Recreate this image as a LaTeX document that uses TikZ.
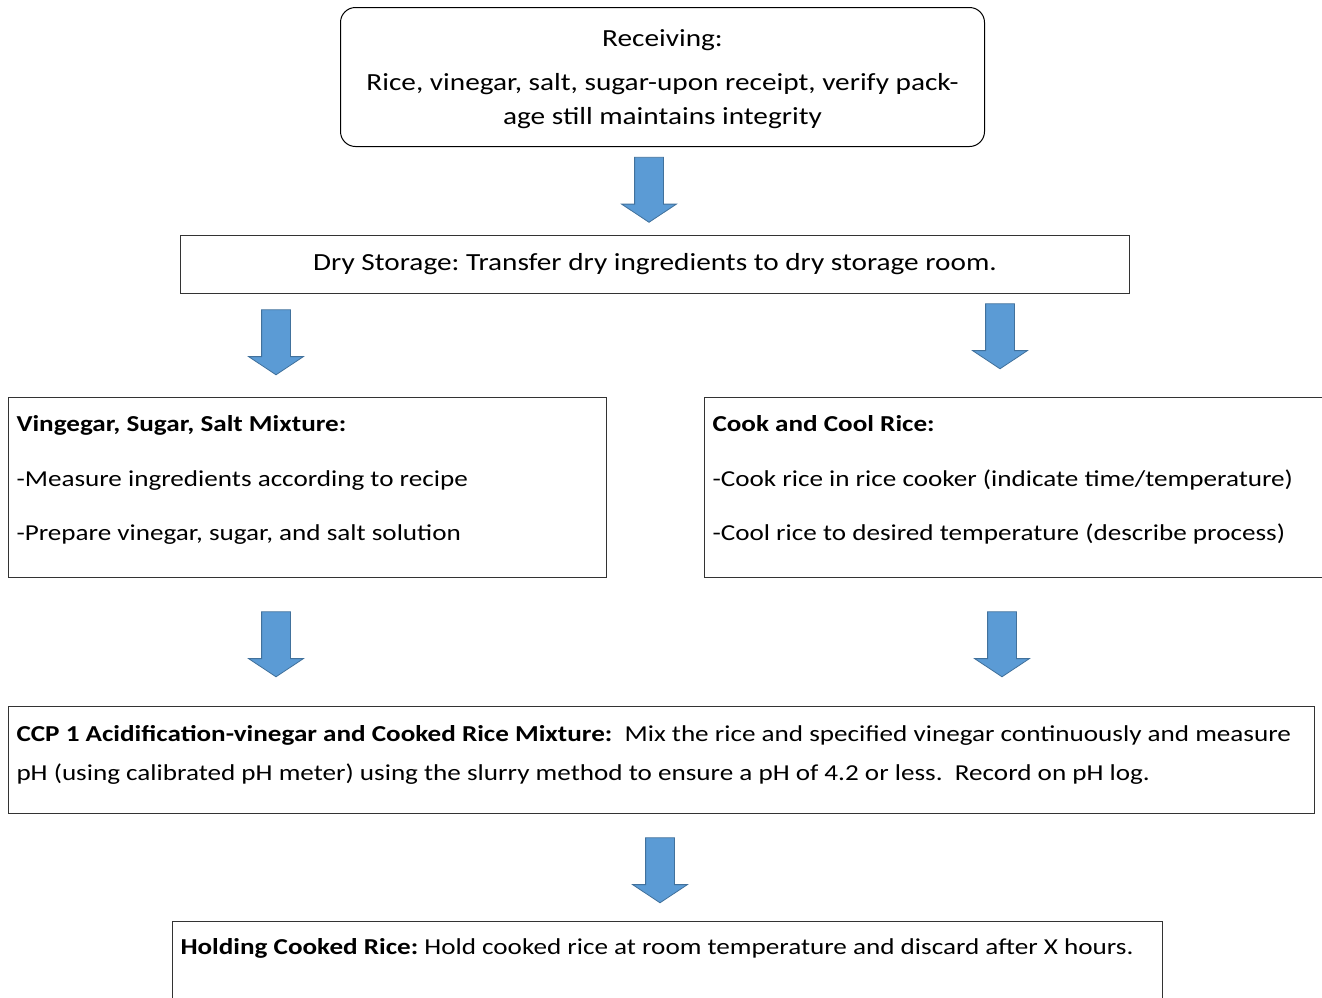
\documentclass[tikz,border=0pt]{standalone}
\usepackage{fontspec}
\setmainfont{Carlito}[FakeStretch=1.19]
\usetikzlibrary{shapes.arrows}
\usetikzlibrary{positioning}
\frenchspacing

\definecolor{arrowfill}{HTML}{5B9BD5}
\definecolor{arrowline}{HTML}{41719C}

% box contents: width, height, first baseline, text
\newcommand{\boxtext}[4]{\parbox[c][#2][t]{#1}{\rule{0pt}{#3}#4}}

\tikzset {
  flow box/.style = {
    draw = black,
    line width = 1pt,
    inner xsep = 8pt,
    inner ysep = 0pt,
    anchor = north west,
    font = \fontsize{22.8}{28}\selectfont
  },
  % larger text in the top two steps
  big text/.style = {
    font = \fontsize{24.6}{34}\selectfont
  },
  % first step, rounded
  start box/.style = {
    flow box,
    big text,
    rounded corners = 15pt
  },
  % plain step
  step box/.style = {
    flow box,
    draw = black!80
  },
  % blue block arrow between steps
  down arrow/.style = {
    single arrow,
    draw = arrowline,
    fill = arrowfill,
    line width = 0.8pt,
    rotate = -90,
    minimum height = 65pt,
    inner xsep = 0pt,
    inner ysep = 14pt,
    single arrow head extend = 13pt,
    single arrow tip angle = 113,
    single arrow head indent = 0pt
  }
}

\begin{document}
\begin{tikzpicture}[x=1pt, y=1pt]
    \useasboundingbox (0,0) rectangle (1322,-997);
    \clip (0,0) rectangle (1322,-997);

    \node[start box] (receiving) at (340,-7) {\boxtext{628pt}{139pt}{39pt}{\centering
      Receiving:\\[10pt]
      Rice, vinegar, salt, sugar-upon receipt, verify pack-\\
      age still maintains integrity}};
    \node[step box, big text] (storage) at (180,-235) {\boxtext{933pt}{58pt}{35pt}{\centering
      Dry Storage: Transfer dry ingredients to dry storage room.}};
    \node[step box] (mixture) at (8,-397) {\boxtext{582pt}{180pt}{34pt}{\raggedright
      \textbf{Vingegar, Sugar, Salt Mixture:}\\[27pt]
      -Measure ingredients according to recipe\\[26pt]
      -Prepare vinegar, sugar, and salt solution}};
    \node[step box] (cook) at (704,-397) {\boxtext{602pt}{180pt}{34pt}{\raggedright
      \textbf{Cook and Cool Rice:}\\[27pt]
      -Cook rice in rice cooker (indicate time/temperature)\\[26pt]
      -Cool rice to desired temperature (describe process)}};
    \node[step box] (ccp) at (8,-706) {\boxtext{1290pt}{107pt}{35pt}{\raggedright
      \textbf{CCP 1 Acidification-vinegar and Cooked Rice Mixture:}\ \ Mix the rice and specified vinegar continuously and measure\\[11pt]
      pH (using calibrated pH meter) using the slurry method to ensure a pH of 4.2 or less.\ \ Record on pH log.}};
    \node[step box] (holding) at (172,-921) {\boxtext{974pt}{120pt}{33pt}{\raggedright
      \textbf{Holding Cooked Rice:} Hold cooked rice at room temperature and discard after X hours.}};

    \node[down arrow] (to-storage) at (649,-185) {};
    \node[down arrow] (to-mixture) at (276,-337.5) {};
    \node[down arrow] (to-cook) at (1000,-331.5) {};
    \node[down arrow] (mixture-ccp) at (276,-639.5) {};
    \node[down arrow] (cook-ccp) at (1002,-639.5) {};
    \node[down arrow] (to-holding) at (660,-865.5) {};
\end{tikzpicture}
\end{document}
